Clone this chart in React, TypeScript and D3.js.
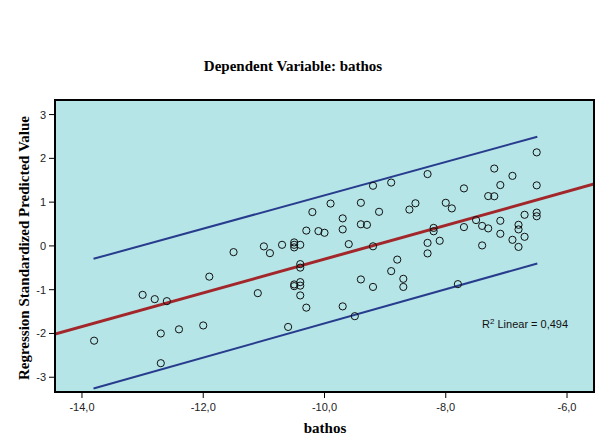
import React, { useEffect } from "react";
import * as d3 from "d3";

// Observed points (x = bathos, y = Regression Standardized Predicted Value)
const pointsX = [
  -13.8, -12.7, -12.7, -12.4, -12.0, -13.0, -12.8, -12.6, -11.9, -11.5,
  -11.1, -11.0, -10.9, -10.7, -10.6, -10.5, -10.5, -10.5, -10.4, -10.4,
  -10.4, -10.4, -10.5, -10.5, -10.4, -10.4, -10.3, -10.3, -10.2, -10.1,
  -10.0, -9.9, -9.7, -9.7, -9.6, -9.4, -9.4, -9.3, -9.2, -9.2,
  -9.1, -8.9, -8.6, -8.5, -8.8, -8.9, -9.4, -9.2, -8.7, -8.7,
  -9.7, -9.5, -8.3, -8.3, -8.3, -8.2, -8.2, -8.1, -8.0, -7.9,
  -7.8, -7.7, -7.7, -7.5, -7.4, -7.3, -7.4, -7.3, -7.2, -7.2,
  -7.1, -7.1, -7.1, -6.9, -6.9, -6.8, -6.8, -6.8, -6.7, -6.7,
  -6.5, -6.5, -6.5, -6.5,
];
const pointsY = [
  -2.165, -2.679, -2.0, -1.906, -1.817, -1.118, -1.216, -1.262, -0.702, -0.142,
  -1.079, -0.011, -0.165, 0.025, -1.851, 0.08, 0.025, -0.034, 0.025, -0.416,
  -0.496, -0.827, -0.88, -0.919, -0.907, -1.131, -1.41, 0.35, 0.773, 0.338,
  0.3, 0.967, 0.629, 0.377, 0.041, 0.985, 0.494, 0.482, 1.374, -0.009,
  0.779, 1.447, 0.83, 0.974, -0.313, -0.576, -0.766, -0.937, -0.752, -0.937,
  -1.381, -1.605, 1.641, 0.069, -0.171, 0.411, 0.334, 0.117, 0.985, 0.857,
  -0.873, 1.314, 0.43, 0.59, 0.457, 0.4, 0.011, 1.138, 1.134, 1.767,
  1.39, 0.574, 0.277, 1.6, 0.139, 0.482, 0.377, -0.023, 0.711, 0.208,
  2.137, 1.383, 0.761, 0.677,
];

// Fit line and interval lines (endpoints)
const fitX = [-14.445, -5.555];
const fitY = [-2.016, 1.413];
const upperX = [-13.81, -6.49];
const upperY = [-0.295, 2.494];
const lowerX = [-13.81, -6.49];
const lowerY = [-3.257, -0.4];

const xTicks = [-14, -12, -10, -8, -6];
const yTicks = [3, 2, 1, 0, -1, -2, -3];
const xDomain = [-14.445, -5.555];
const yDomain = [-3.337, 3.333];

const titleText = "Dependent Variable: bathos";
const xTitle = "bathos";
const yTitle = "Regression Standardized Predicted Value";
const r2Text = "0,494";

const fmtX = (v: number) => v.toFixed(1).replace(".", ",");

export default function App() {
  useEffect(() => {
    document.body.style.margin = "0";
  }, []);

  const W = 611;
  const H = 444;
  const left = 55, right = 594, top = 100, bottom = 392;
  const x = d3.scaleLinear().domain(xDomain).range([left, right]);
  const y = d3.scaleLinear().domain(yDomain).range([bottom, top]);

  const line = d3
    .line<[number, number]>()
    .x((d) => x(d[0]))
    .y((d) => y(d[1]));

  const zip = (a: number[], b: number[]) => a.map((v, i) => [v, b[i]] as [number, number]);

  const serif = "'Liberation Serif', 'Times New Roman', serif";
  const sans = "'Liberation Sans', Arial, sans-serif";

  return (
    <svg
      width={W}
      height={H}
      style={{ position: "absolute", left: 0, top: 0, background: "#fff" }}
    >
      <rect x={0} y={0} width={W} height={H} fill="#fff" />
      <text
        x={293}
        y={71}
        textAnchor="middle"
        fontFamily={serif}
        fontWeight="bold"
        fontSize={15}
        fill="#000"
      >
        {titleText}
      </text>

      <defs>
        <clipPath id="plotclip">
          <rect x={left} y={top} width={right - left} height={bottom - top} />
        </clipPath>
      </defs>

      <rect x={left} y={top} width={right - left} height={bottom - top} fill="#B5E5E7" />

      <g clipPath="url(#plotclip)">
        <path d={line(zip(upperX, upperY)) || ""} stroke="#283C8E" strokeWidth={2} fill="none" />
        <path d={line(zip(lowerX, lowerY)) || ""} stroke="#283C8E" strokeWidth={2} fill="none" />
        <path d={line(zip(fitX, fitY)) || ""} stroke="#A3272A" strokeWidth={3} fill="none" />
        {pointsX.map((px, i) => (
          <circle
            key={i}
            cx={x(px)}
            cy={y(pointsY[i])}
            r={3.6}
            fill="none"
            stroke="#111"
            strokeWidth={1}
          />
        ))}
      </g>

      <rect
        x={left}
        y={top}
        width={right - left}
        height={bottom - top}
        fill="none"
        stroke="#000"
        strokeWidth={2}
      />

      {yTicks.map((t) => (
        <g key={"y" + t}>
          <line x1={left - 6} x2={left - 1} y1={y(t)} y2={y(t)} stroke="#000" strokeWidth={1} />
          <text
            x={46}
            y={y(t) + 4}
            textAnchor="end"
            fontFamily={sans}
            fontSize={11}
            fill="#222"
          >
            {t}
          </text>
        </g>
      ))}

      {xTicks.map((t) => (
        <g key={"x" + t}>
          <line x1={x(t)} x2={x(t)} y1={bottom + 1} y2={bottom + 6} stroke="#000" strokeWidth={1} />
          <text
            x={x(t)}
            y={411}
            textAnchor="middle"
            fontFamily={sans}
            fontSize={11}
            fill="#222"
          >
            {fmtX(t)}
          </text>
        </g>
      ))}

      <text
        x={325}
        y={433}
        textAnchor="middle"
        fontFamily={serif}
        fontWeight="bold"
        fontSize={15}
        fill="#000"
      >
        {xTitle}
      </text>

      <text
        transform={`translate(29, ${(top + bottom) / 2 + 2}) rotate(-90)`}
        textAnchor="middle"
        fontFamily={serif}
        fontWeight="bold"
        fontSize={15}
        fill="#000"
      >
        {yTitle}
      </text>

      <text x={482} y={328} fontFamily={sans} fontSize={11} fill="#111">
        R<tspan dy={-4} fontSize={8}>2</tspan>
        <tspan dy={4}> Linear = {r2Text}</tspan>
      </text>
    </svg>
  );
}
